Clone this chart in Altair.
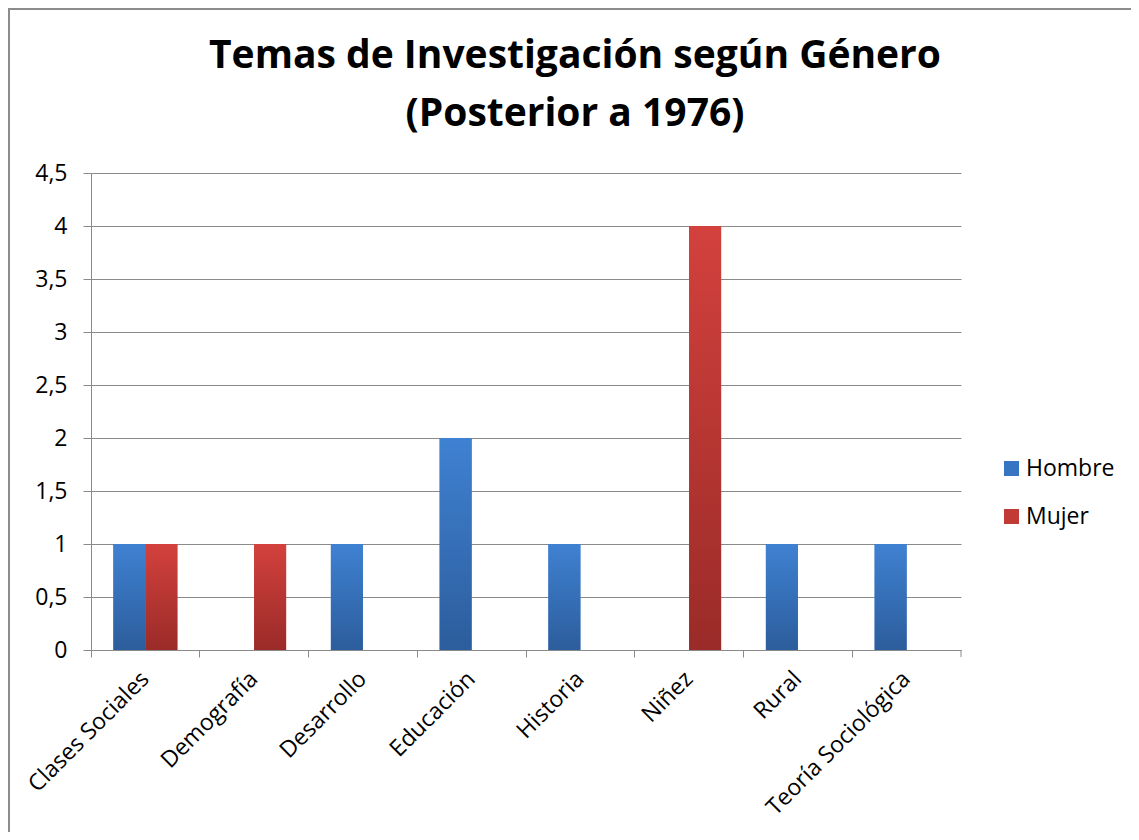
import altair as alt
import pandas as pd

categories = ["Clases Sociales", "Demografía", "Desarrollo", "Educación",
              "Historia", "Niñez", "Rural", "Teoría Sociológica"]
series = ["Hombre", "Mujer"]
hombre = [1, 0, 1, 2, 1, 0, 1, 1]
mujer = [1, 1, 0, 0, 0, 4, 0, 0]
y_ticks = [0, 0.5, 1, 1.5, 2, 2.5, 3, 3.5, 4, 4.5]

rows = []
for c, h, m in zip(categories, hombre, mujer):
    rows.append({"categoria": c, "genero": "Hombre", "valor": h})
    rows.append({"categoria": c, "genero": "Mujer", "valor": m})
df = pd.DataFrame(rows)
df = df[df["valor"] > 0]

FONT = "Open Sans"
GREY = "#8a8a8a"
W, H = 870, 477

grad_h = alt.Gradient(gradient="linear", x1=0, x2=0, y1=0, y2=1,
                      stops=[alt.GradientStop(color="#3F81D2", offset=0),
                             alt.GradientStop(color="#2C5D9C", offset=1)])
grad_m = alt.Gradient(gradient="linear", x1=0, x2=0, y1=0, y2=1,
                      stops=[alt.GradientStop(color="#D3413D", offset=0),
                             alt.GradientStop(color="#9A2B28", offset=1)])

x_enc = alt.X("categoria:N", sort=categories,
              scale=alt.Scale(paddingInner=0, paddingOuter=0),
              axis=alt.Axis(title=None, labelAngle=-45, labelAlign="right",
                            labelBaseline="middle", labelFontSize=23, labelFont=FONT,
                            labelColor="black", labelPadding=18, tickSize=7,
                            bandPosition=0, grid=False, domainColor=GREY,
                            tickColor=GREY, labelLimit=400))
xo_enc = alt.XOffset("genero:N", sort=series,
                     scale=alt.Scale(domain=series, paddingInner=0, paddingOuter=0.7))
y_enc = alt.Y("valor:Q", scale=alt.Scale(domain=[0, 4.5], nice=False),
              axis=alt.Axis(title=None, values=y_ticks, format="~g",
                            labelExpr="replace(datum.label, '.', ',')",
                            labelFontSize=23, labelFont=FONT, labelColor="black",
                            tickSize=8, labelPadding=16, grid=True,
                            gridColor=GREY, domainColor=GREY, tickColor=GREY))

base = alt.Chart(df).encode(x=x_enc, xOffset=xo_enc, y=y_enc)

legend_layer = base.mark_bar().encode(
    color=alt.Color("genero:N", sort=series,
                    scale=alt.Scale(domain=series, range=["#3775C2", "#C23A36"]),
                    legend=alt.Legend(orient="none", legendX=909, legendY=284, title=None,
                                      symbolType="square", symbolSize=225,
                                      symbolStrokeWidth=0, labelFontSize=23,
                                      labelFont=FONT, labelColor="black",
                                      rowPadding=24, labelOffset=3, padding=0))
)
h_layer = base.mark_bar(color=grad_h).transform_filter(alt.datum.genero == "Hombre")
m_layer = base.mark_bar(color=grad_m).transform_filter(alt.datum.genero == "Mujer")

deco = pd.DataFrame({"d": [0]})
end_tick = alt.Chart(deco).mark_rule(color=GREY, strokeWidth=1).encode(
    x=alt.value(W), y=alt.value(H), y2=alt.value(H + 7))
border_left = alt.Chart(deco).mark_rule(color="#8c8c8c", strokeWidth=2).encode(
    x=alt.value(-82), y=alt.value(-165), y2=alt.value(H + 182))
border_top = alt.Chart(deco).mark_rule(color="#8c8c8c", strokeWidth=2).encode(
    y=alt.value(-164), x=alt.value(-83), x2=alt.value(W + 200))

chart = alt.layer(border_left, border_top, legend_layer, h_layer, m_layer, end_tick).properties(
    width=W, height=H,
    title=alt.TitleParams(text=["Temas de Investigación según Género", "(Posterior a 1976)"],
                          font=FONT, fontSize=39, fontWeight="bold", color="black",
                          lineHeight=58, anchor="middle", baseline="alphabetic",
                          dx=49, dy=158, offset=0),
    autosize=alt.AutoSizeParams(type="none"),
    padding={"left": 83, "top": 165, "right": 170, "bottom": 182},
).configure_view(stroke=None)

chart.save("out.html", embed_options={"renderer": "svg", "actions": False})
